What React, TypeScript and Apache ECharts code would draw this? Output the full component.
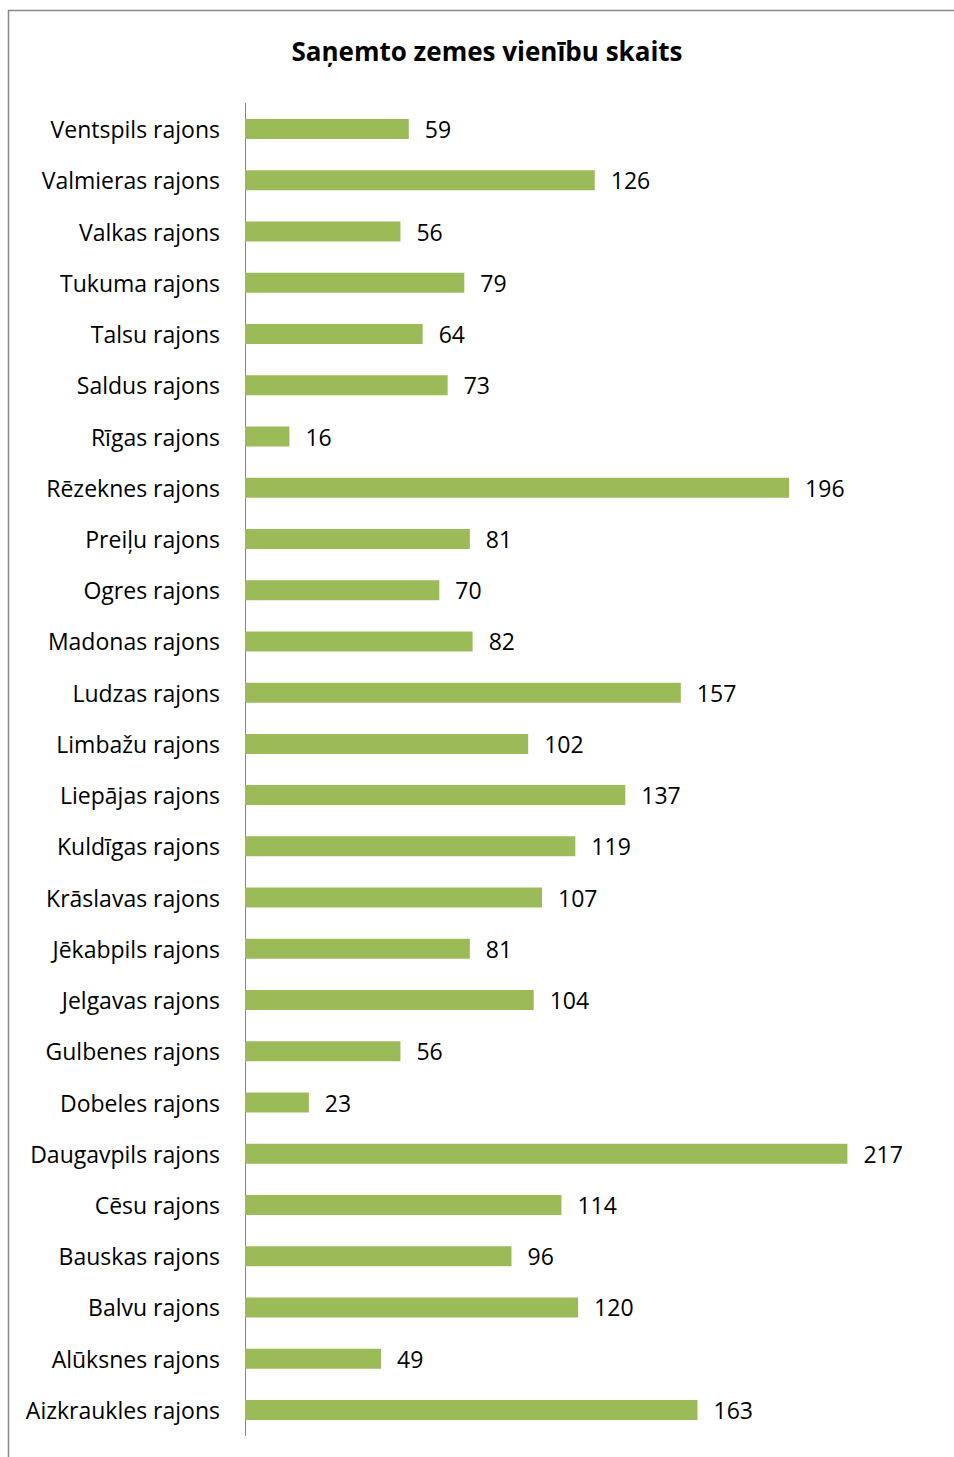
import React, { useEffect, useRef } from "react";
import * as echarts from "echarts";

const categories = [
  "Ventspils rajons", "Valmieras rajons", "Valkas rajons", "Tukuma rajons", "Talsu rajons",
  "Saldus rajons", "Rīgas rajons", "Rēzeknes rajons", "Preiļu rajons", "Ogres rajons",
  "Madonas rajons", "Ludzas rajons", "Limbažu rajons", "Liepājas rajons", "Kuldīgas rajons",
  "Krāslavas rajons", "Jēkabpils rajons", "Jelgavas rajons", "Gulbenes rajons", "Dobeles rajons",
  "Daugavpils rajons", "Cēsu rajons", "Bauskas rajons", "Balvu rajons", "Alūksnes rajons",
  "Aizkraukles rajons",
];
const values = [59, 126, 56, 79, 64, 73, 16, 196, 81, 70, 82, 157, 102, 137, 119, 107, 81, 104, 56, 23, 217, 114, 96, 120, 49, 163];
const title = "Saņemto zemes vienību skaits";

export default function App() {
  const ref = useRef<HTMLDivElement>(null);
  useEffect(() => {
    if (!ref.current) return;
    const chart = echarts.init(ref.current, undefined, { renderer: "svg" });
    const font = "'Open Sans', Lato, sans-serif";
    chart.setOption({
      animation: false,
      backgroundColor: "#ffffff",
      title: {
        text: title,
        left: 482,
        top: 33,
        textAlign: "center",
        textStyle: { fontFamily: font, fontSize: 26, fontWeight: "bold", color: "#000" },
      },
      graphic: [
        { type: "line", shape: { x1: 8, y1: 10.5, x2: 954, y2: 10.5 }, style: { stroke: "#898989", lineWidth: 1.5 } },
        { type: "line", shape: { x1: 8.5, y1: 10, x2: 8.5, y2: 1457 }, style: { stroke: "#898989", lineWidth: 1.5 } },
      ],
      grid: { left: 245, top: 103.5, width: 694, height: 1332, containLabel: false },
      xAxis: { type: "value", min: 0, max: 250, show: false },
      yAxis: {
        type: "category",
        data: categories,
        inverse: true,
        axisLine: { show: true, lineStyle: { color: "#868686", width: 1 } },
        axisTick: { show: false },
        axisLabel: { fontFamily: font, fontSize: 23, color: "#000", margin: 25 },
      },
      series: [
        {
          type: "bar",
          data: values,
          barWidth: 20,
          itemStyle: { color: "#9bbb59" },
          label: {
            show: true,
            position: "right",
            distance: 16,
            fontFamily: font,
            fontSize: 23,
            color: "#000",
          },
        },
      ],
    });
    return () => chart.dispose();
  }, []);
  return <div ref={ref} style={{ position: "absolute", left: 0, top: 0, width: 954, height: 1457 }} />;
}
